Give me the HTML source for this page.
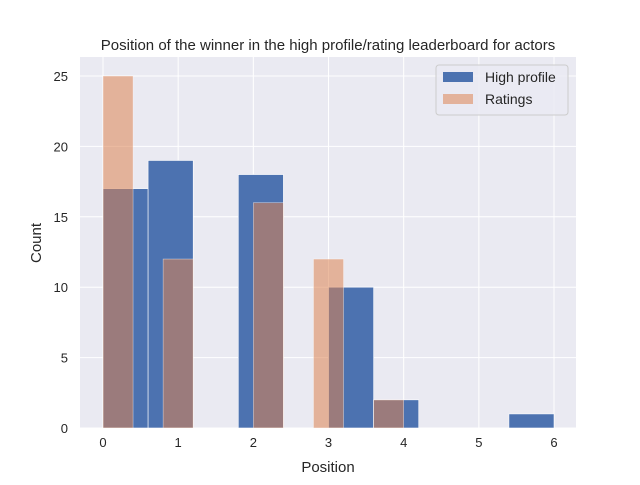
<!DOCTYPE html>
<html><head><meta charset="utf-8"><style>
body{margin:0;background:#fff;}
text{font-family:"Liberation Sans","DejaVu Sans",sans-serif;fill:#262626;}
</style></head><body>
<svg id="chart" width="640" height="480" xmlns="http://www.w3.org/2000/svg">
<rect x="80" y="57" width="496" height="371" fill="#eaeaf2"/>
<g id="grid"></g>
<g id="bars"></g>
<g id="ticks"></g>
<text x="328" y="50" text-anchor="middle" font-size="15">Position of the winner in the high profile/rating leaderboard for actors</text>
<text x="328" y="472" text-anchor="middle" font-size="15">Position</text>
<text x="41" y="243" text-anchor="middle" font-size="15" transform="rotate(-90 41 243)">Count</text>
<g>
<rect x="436" y="65" width="132" height="50" rx="3" fill="#eaeaf2" stroke="#cccccc" fill-opacity="0.8"/>
<rect x="443" y="72" width="30" height="10" fill="#4c72b0"/>
<text x="485" y="82" font-size="14">High profile</text>
<rect x="443" y="94" width="30" height="10" fill="#dd8452" fill-opacity="0.55"/>
<text x="485" y="104" font-size="14">Ratings</text>
</g>
</svg>
<script>
const highBinStart = 0, highBinWidth = 0.6;
const highCounts = [17, 19, 0, 18, 0, 10, 2, 0, 0, 1];
const ratingBinStart = 0, ratingBinWidth = 0.4;
const ratingCounts = [25, 0, 12, 0, 0, 16, 0, 12, 0, 2];
const xTicks = [0, 1, 2, 3, 4, 5, 6];
const yTicks = [0, 5, 10, 15, 20, 25];
const NS = "http://www.w3.org/2000/svg";
const X = v => 103 + v * 75.17;
const Y = v => 428 - v * 14.08;
function mk(tag, attrs, parent){const e=document.createElementNS(NS,tag);for(const k in attrs)e.setAttribute(k,attrs[k]);parent.appendChild(e);return e;}
const grid=document.getElementById('grid'), bars=document.getElementById('bars'), ticks=document.getElementById('ticks');
xTicks.forEach(t=>{
  const l=mk('line',{x1:X(t),x2:X(t),y1:57,y2:428,stroke:'#fff','stroke-width':1},grid);
  
  
  const tx=mk('text',{x:X(t),y:447,'text-anchor':'middle','font-size':13},ticks);
  tx.textContent=t;
  
  
});
yTicks.forEach(t=>{
  const l=mk('line',{x1:80,x2:576,y1:Y(t),y2:Y(t),stroke:'#fff','stroke-width':1},grid);
  
  
  const tx=mk('text',{x:68,y:Y(t)+5,'text-anchor':'end','font-size':13},ticks);
  tx.textContent=t;
  
  
});
highCounts.forEach((c,i)=>{
  if(!c)return;
  const x0=X(highBinStart+i*highBinWidth), x1=X(highBinStart+(i+1)*highBinWidth);
  const r=mk('rect',{x:x0,y:Y(c),width:x1-x0,height:Y(0)-Y(c),fill:'#4c72b0',stroke:'#fff','stroke-width':0.6},bars);
  
  
});
ratingCounts.forEach((c,i)=>{
  if(!c)return;
  const x0=X(ratingBinStart+i*ratingBinWidth), x1=X(ratingBinStart+(i+1)*ratingBinWidth);
  const r=mk('rect',{x:x0,y:Y(c),width:x1-x0,height:Y(0)-Y(c),fill:'#dd8452','fill-opacity':0.55,stroke:'#fff','stroke-opacity':0.6,'stroke-width':0.6},bars);
  
  
});
</script>
</body></html>
